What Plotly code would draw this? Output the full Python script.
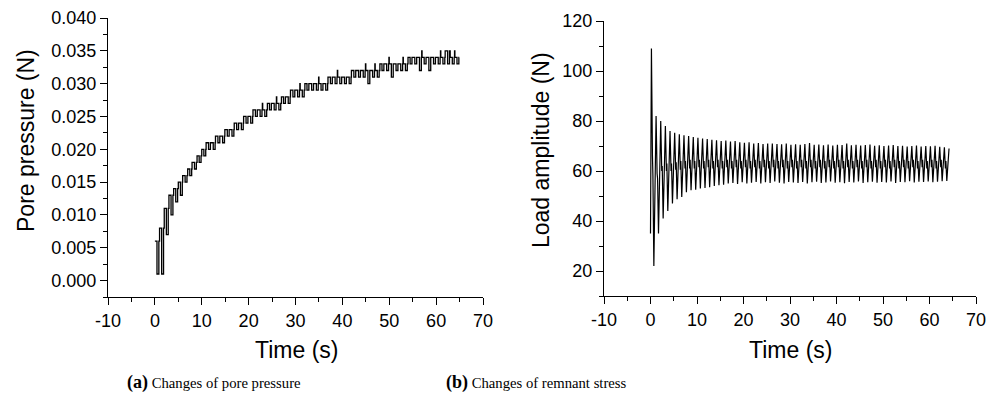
import plotly.graph_objects as go

# ---------------- data ----------------
# (a) pore pressure, in units of 0.001 N, per second (t = 0..64):
# resting (upper) level, short dip (lower) level and brief spike level
pore_seconds = list(range(65))
pore_high = [6, 8, 11, 13, 14, 15, 16, 17, 18, 19, 20, 21, 21, 22, 22, 23, 23, 24, 24, 25,
             25, 26, 26, 26, 27, 27, 27, 28, 28, 29, 29, 29, 30, 30, 30, 30, 30, 31, 31, 31,
             31, 31, 32, 32, 32, 32, 32, 32, 33, 33, 33, 33, 33, 33, 34, 34, 34, 34, 34, 34,
             34, 34, 35, 34, 34]
pore_low = [1, 1, 7, 10, 12, 13, 15, 16, 17, 18, 19, 20, 20, 21, 21, 22, 22, 23, 23, 24,
            24, 25, 25, 25, 26, 26, 26, 27, 27, 28, 28, 28, 29, 29, 29, 29, 29, 30, 30, 30,
            30, 30, 31, 31, 31, 30, 31, 31, 32, 32, 31, 32, 32, 32, 33, 33, 32, 33, 32, 33,
            33, 33, 33, 33, 33]
pore_spike = [6, 8, 11, 13, 14, 16, 16, 18, 18, 19, 21, 21, 22, 22, 23, 23, 24, 24, 25, 25,
              26, 26, 27, 26, 27, 28, 27, 28, 29, 29, 30, 29, 30, 30, 31, 30, 31, 31, 32, 31,
              31, 32, 32, 32, 33, 32, 33, 32, 33, 34, 33, 33, 34, 33, 34, 34, 35, 34, 34, 34,
              35, 35, 35, 35, 34]

# (b) load amplitude (N), one cycle per second (64 cycles)
load_start = 35
load_end = 69
load_peak = [109, 82, 80, 78, 76, 75.3, 74.7, 74.3, 74, 73.6, 73.3, 73, 72.8, 72.5, 72.3, 72,
             72.2, 71.8, 72, 71.5, 71.3, 71.5, 71, 71.2, 70.8, 71, 71, 70.8, 70.7, 71, 70.5, 70.7,
             70.5, 70.8, 71.2, 70.5, 70.6, 70.3, 70.6, 70.2, 70.5, 70.4, 71, 70.3, 70.5, 70.2, 70.4, 70.6,
             70.1, 70.3, 70, 70.2, 70.4, 70, 70.1, 69.8, 70, 70.2, 69.8, 70, 69.9, 70.1, 69.7, 69.5]
load_kink_lo = [66, 59, 60, 60, 60, 60.5, 60.5, 61, 61, 61, 61.5, 61, 61.5, 61, 61.5, 61,
                61.5, 61, 61.5, 61, 61.5, 61, 61.5, 61, 61.5, 61, 61.5, 61, 61.5, 61, 61.5, 61,
                61.5, 61, 61.5, 61, 61.5, 61, 61.5, 61, 61.5, 61, 61.5, 61, 61.5, 61, 61.5, 61,
                61.5, 61, 61.5, 61, 61.5, 61, 61.5, 61, 61.5, 61, 61.5, 61, 61.5, 61, 61.5, 61]
load_kink_hi = [58, 57, 62, 63, 63, 63.5, 64, 64, 64.5, 64, 64.5, 64, 64.5, 64, 64.5, 64,
                64.5, 64, 64.5, 64, 64.5, 64, 64.5, 64, 64.5, 64, 64.5, 64, 64.5, 64, 64.5, 64,
                64.5, 64, 64.5, 64, 64.5, 64, 64.5, 64, 64.5, 64, 64.5, 64, 64.5, 64, 64.5, 64,
                64.5, 64, 64.5, 64, 64.5, 64, 64.5, 64, 64.5, 64, 64.5, 64, 64.5, 64, 64.5, 64]
load_trough = [22, 35, 41, 44, 47, 48.7, 49.6, 51.5, 52.3, 52.5, 53, 53.2, 53.5, 54, 54.3, 54.5,
               55, 55.2, 54.8, 55.5, 55, 55.3, 55.6, 55, 55.5, 55.2, 55.8, 55.3, 55, 55.6, 55.4, 55.2,
               55.6, 55, 55.5, 55.7, 55.2, 55.4, 55.8, 55.3, 55.5, 55.1, 55.6, 55.4, 55.8, 55.2, 55.5, 55.7,
               55.3, 55.6, 55.4, 55.8, 55.2, 55.6, 55.5, 55.9, 55.4, 55.7, 55.6, 55.8, 55.5, 55.7, 55.9, 56]

x_ticks = [-10, 0, 10, 20, 30, 40, 50, 60, 70]
x_tick_text = ["-10", "0", "10", "20", "30", "40", "50", "60", "70"]

# ---------------- build series ----------------
pore_t, pore_v = [], []
for s, hi, lo, sp in zip(pore_seconds, pore_high, pore_low, pore_spike):
    pore_t += [s, s + 0.45, s + 0.85, s + 0.93]
    pore_v += [hi / 1000, lo / 1000, hi / 1000, sp / 1000]

load_t, load_v = [0.0], [load_start]
for k, (p, a, b, tr) in enumerate(zip(load_peak, load_kink_lo, load_kink_hi, load_trough)):
    load_t += [k + 0.2, k + 0.42, k + 0.52, k + 0.72]
    load_v += [p, a, b, tr]
load_t.append(64.2)
load_v.append(load_end)

# ---------------- figure ----------------
fig = go.Figure()
fig.add_trace(go.Scatter(x=pore_t, y=pore_v, mode="lines", line=dict(color="black", width=1.3, shape="hv"),
                         xaxis="x", yaxis="y", showlegend=False))
fig.add_trace(go.Scatter(x=load_t, y=load_v, mode="lines", line=dict(color="black", width=1.2),
                         xaxis="x2", yaxis="y2", showlegend=False))

tick_font = dict(family="Liberation Sans", size=18, color="black")
common_axis = dict(showline=True, linecolor="black", linewidth=1.2, ticks="outside", ticklen=7,
                   tickwidth=1.2, tickcolor="black", showgrid=False, zeroline=False, tickfont=tick_font,
                   automargin=False)

W, H = 995, 404
fig.update_layout(
    width=W, height=H, margin=dict(l=0, r=0, t=0, b=0, pad=0, autoexpand=False),
    paper_bgcolor="white", plot_bgcolor="white",
    xaxis=dict(domain=[108 / W, 483 / W], range=[-10, 70], tickvals=x_ticks, ticktext=x_tick_text, anchor="y",
               minor=dict(ticks="outside", ticklen=4, dtick=5, tick0=0, tickcolor="black", tickwidth=1.2),
               **common_axis),
    yaxis=dict(domain=[(H - 297) / H, (H - 18) / H], range=[-0.0025, 0.040], dtick=0.005, tick0=0,
               tickformat=".3f", anchor="x",
               minor=dict(ticks="outside", ticklen=4, dtick=0.0025, tick0=0, tickcolor="black", tickwidth=1.2),
               **common_axis),
    xaxis2=dict(domain=[604 / W, 976 / W], range=[-10, 70], tickvals=x_ticks, ticktext=x_tick_text, anchor="y2",
                minor=dict(ticks="outside", ticklen=4, dtick=5, tick0=0, tickcolor="black", tickwidth=1.2),
                **common_axis),
    yaxis2=dict(domain=[(H - 296) / H, (H - 21) / H], range=[10, 120], dtick=20, tick0=0, anchor="x2",
                minor=dict(ticks="outside", ticklen=4, dtick=10, tick0=0, tickcolor="black", tickwidth=1.2),
                **common_axis),
)

title_font = dict(family="Liberation Sans", size=23, color="black")
cap_font = dict(family="Liberation Serif", size=14.7, color="black")

def ann(text, x, y, font, angle=0):
    fig.add_annotation(text=text, x=x / W, y=1 - y / H, xref="paper", yref="paper",
                       showarrow=False, font=font, textangle=angle, xanchor="center", yanchor="middle")

ann("Time (s)", 296, 350, title_font)
ann("Time (s)", 790, 350, title_font)
ann("Pore pressure (N)", 26, 141, title_font, -90)
ann("Load amplitude (N)", 541, 150, title_font, -90)
ann("<b><span style='font-size:18px'>(a)</span></b> Changes of pore pressure", 214, 382, cap_font)
ann("<b><span style='font-size:18px'>(b)</span></b> Changes of remnant stress", 536, 382, cap_font)

fig.write_html("out.html")
